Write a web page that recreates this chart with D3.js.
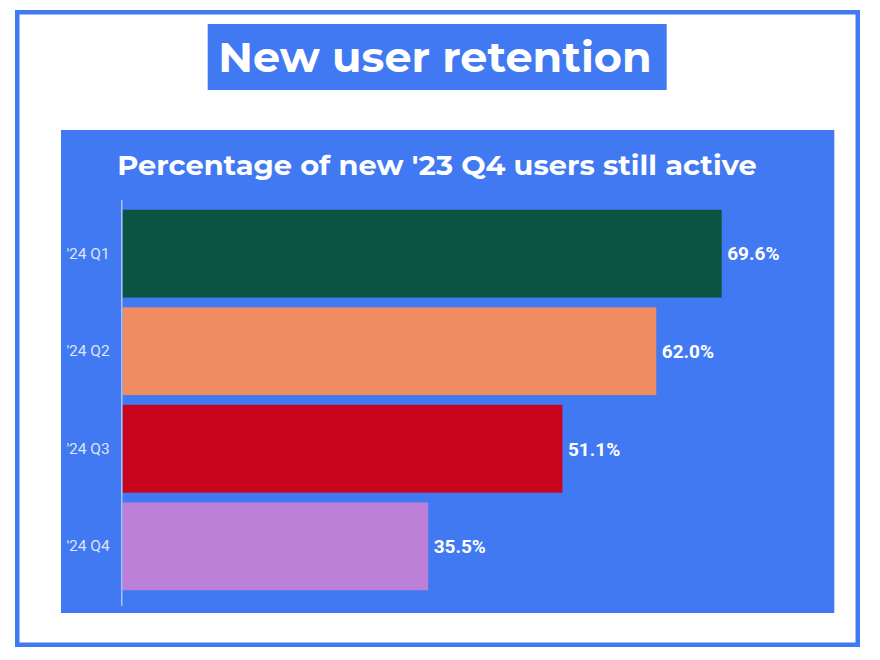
<!DOCTYPE html>
<html>
<head>
<meta charset="utf-8">
<script src="https://cdn.jsdelivr.net/npm/d3@7"></script>
<style>
  html, body { margin: 0; padding: 0; background: #ffffff; }
  svg { display: block; }
</style>
</head>
<body>
<div id="chart"></div>
<script>
// ---- data ----
const categories = ["'24 Q1", "'24 Q2", "'24 Q3", "'24 Q4"];
const values = [69.6, 62.0, 51.1, 35.5];
const barColors = ["#0b5441", "#ef8c62", "#c8051c", "#bd80d8"];
const titleText = "New user retention";
const subtitleText = "Percentage of new '23 Q4 users still active";

// ---- layout ----
const W = 880, H = 660;
const BLUE = "#4179f2";
const svg = d3.select("#chart").append("svg").attr("width", W).attr("height", H);

// outer frame
svg.append("rect")
  .attr("x", 17.25).attr("y", 12.25)
  .attr("width", 840.5).attr("height", 632.5)
  .attr("fill", "#ffffff").attr("stroke", BLUE).attr("stroke-width", 4.5);

// title box
svg.append("rect")
  .attr("x", 207.7).attr("y", 24).attr("width", 459).attr("height", 66)
  .attr("fill", BLUE);
svg.append("text")
  .attr("x", 218.3).attr("y", 71.7)
  .attr("font-family", "Montserrat, 'Open Sans', sans-serif")
  .attr("font-weight", 700).attr("font-size", 42)
  .attr("fill", "#ffffff")
  .attr("textLength", 433.4).attr("lengthAdjust", "spacingAndGlyphs")
  .text(titleText);

// chart panel
svg.append("rect")
  .attr("x", 61).attr("y", 130).attr("width", 773.3).attr("height", 483)
  .attr("fill", BLUE);
svg.append("text")
  .attr("x", 117.3).attr("y", 175)
  .attr("font-family", "Montserrat, 'Open Sans', sans-serif")
  .attr("font-weight", 700).attr("font-size", 27)
  .attr("fill", "#ffffff")
  .attr("textLength", 639.4).attr("lengthAdjust", "spacingAndGlyphs")
  .text(subtitleText);

// scales
const x = d3.scaleLinear().domain([0, d3.max(values)]).range([122.5, 721.7]);
const y = d3.scaleBand().domain(categories).range([200, 600])
  .paddingInner(0.1).paddingOuter(0.1);

// bars
svg.append("g").selectAll("rect")
  .data(categories)
  .join("rect")
  .attr("x", x(0))
  .attr("y", d => y(d))
  .attr("width", (d, i) => x(values[i]) - x(0))
  .attr("height", y.bandwidth())
  .attr("fill", (d, i) => barColors[i]);

// value labels
svg.append("g").selectAll("text")
  .data(categories)
  .join("text")
  .attr("x", (d, i) => x(values[i]) + 5.5)
  .attr("y", d => y(d) + y.bandwidth() / 2)
  .attr("dy", "0.36em")
  .attr("font-family", "Roboto, sans-serif")
  .attr("font-weight", 700).attr("font-size", 19)
  .attr("fill", "#ffffff")
  .text((d, i) => values[i].toFixed(1) + "%");

// y axis
const yAxis = d3.axisLeft(y).tickSize(0).tickPadding(12);
const ag = svg.append("g").attr("transform", "translate(121.75,0)").call(yAxis);
ag.select(".domain").remove();
ag.selectAll("text")
  .attr("font-family", "Roboto, sans-serif")
  .attr("font-size", 15.5)
  .attr("fill", "#dde5f6");
svg.append("line")
  .attr("x1", 121.75).attr("x2", 121.75)
  .attr("y1", 200).attr("y2", 606)
  .attr("stroke", "#a9c1f7").attr("stroke-width", 1.5);
</script>
</body>
</html>
